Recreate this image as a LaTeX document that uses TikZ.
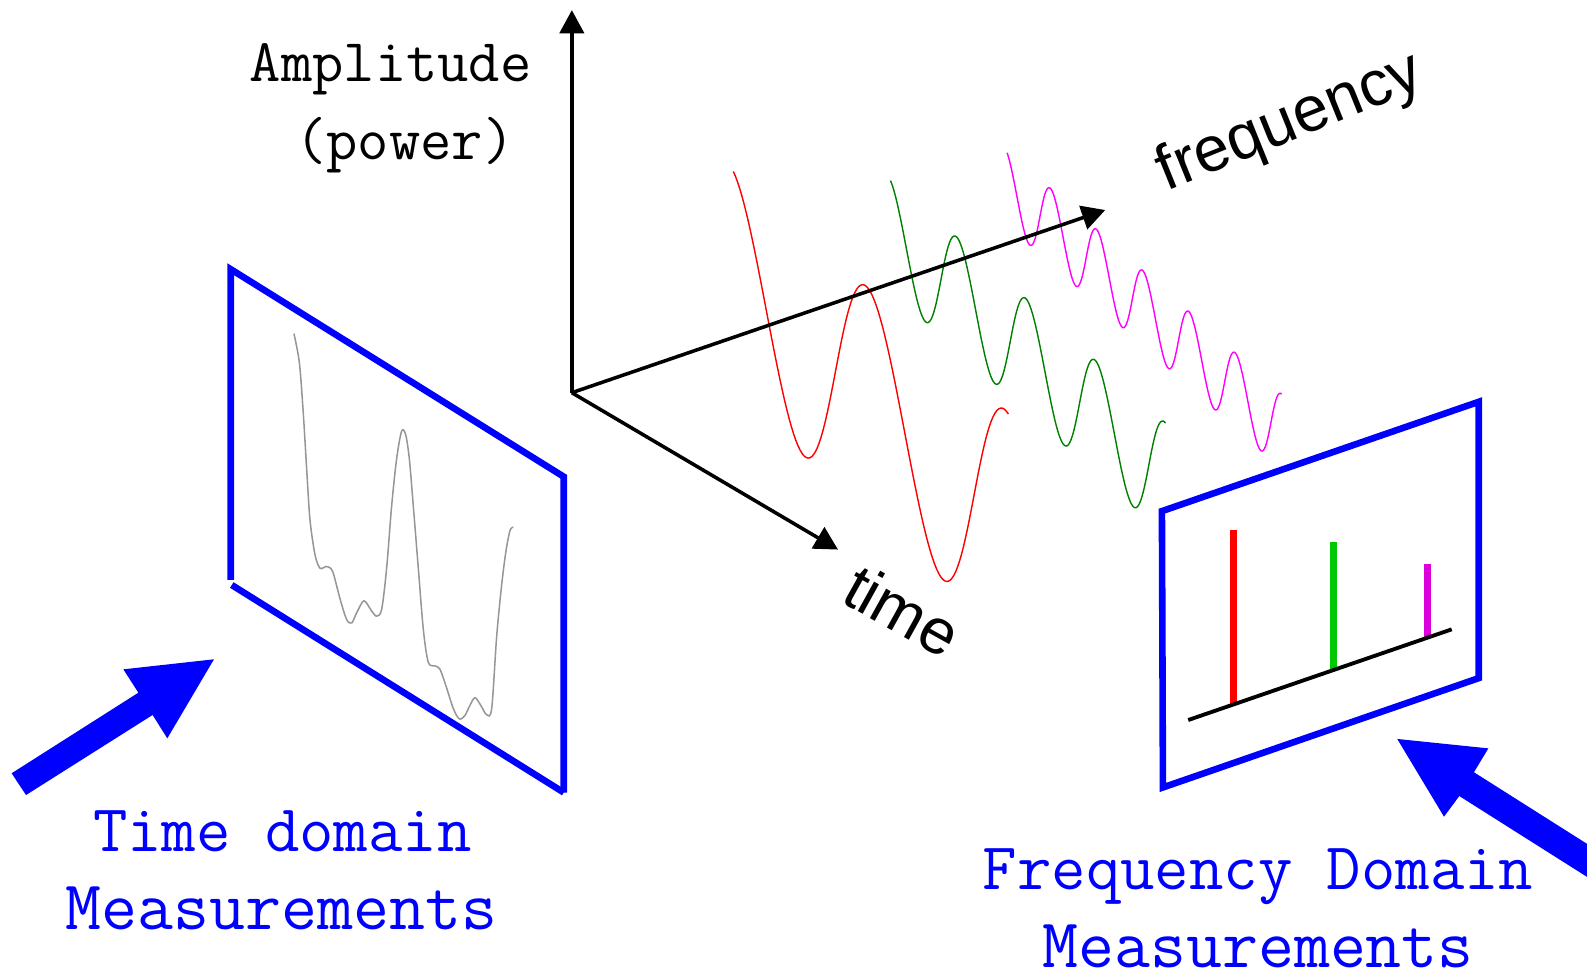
\documentclass[tikz,border=0pt]{standalone}
\usepackage{fontspec}
\usepackage{xcolor}
\usepackage{tikz}
\usetikzlibrary{arrows.meta, positioning, calc}
\newfontfamily\axisfont{Liberation Sans}
\definecolor{myblue}{RGB}{0,0,255}
\definecolor{mygray}{RGB}{150,150,150}
\definecolor{wavegreen}{RGB}{0,128,0}
\definecolor{wavemagenta}{RGB}{255,0,255}
\definecolor{bargreen}{RGB}{0,200,0}
\definecolor{barmagenta}{RGB}{220,0,220}
\tikzset{
  panel/.style={draw=myblue, line width=6.5pt},
  axis/.style={-{Triangle[length=23pt,width=24pt]}, line width=3.5pt, color=black},
  wave/.style={line width=1.4pt},
  trace/.style={line width=1.5pt, color=mygray},
  specbar/.style={line width=7pt},
  bigarrow/.style={fill=myblue},
  ttlabel/.style={font=\ttfamily\fontsize{60}{72}\selectfont, anchor=base, inner sep=0pt},
  bluelabel/.style={font=\ttfamily\fontsize{66}{78}\selectfont, anchor=base, inner sep=0pt, text=myblue},
  widelabel/.style={bluelabel, font=\ttfamily\fontsize{69}{80}\selectfont},
  axislabel/.style={font=\axisfont\fontsize{63}{75}\selectfont, inner sep=0pt}
}
\begin{document}
\begin{tikzpicture}[x=1pt, y=-1pt]
  \useasboundingbox (0,0) rectangle (1568,962);
  \clip (0,0) rectangle (1568,962);
  % Harmonics: f, 2f, 3f with amplitudes 1, 1/2, 1/3
  \draw[wave, red] plot[domain=0.25:12.72, samples=140, variable=\t]
    ({719+21.8*\t+3.75*(1-cos(\t r))}, {161+19.4*\t+114.5*(1-cos(\t r))});
  \draw[wave, wavegreen] plot[domain=0.3:25.23, samples=240, variable=\t]
    ({876.5+10.9*\t+1.875*(1-cos(\t r))}, {173+9.7*\t+57.25*(1-cos(\t r))});
  \draw[wave, wavemagenta] plot[domain=0.4:37.75, samples=340, variable=\t]
    ({992+7.267*\t+1.25*(1-cos(\t r))}, {145.3+6.467*\t+38.17*(1-cos(\t r))});
  % Axes
  \coordinate (O) at (565,388);
  \coordinate (ampTip) at (565,10);
  \coordinate (freqTip) at (1092,207.5);
  \coordinate (timeTip) at (828,543);
  \draw[axis] (O) -- (ampTip);
  \draw[axis] (O) -- (freqTip);
  \draw[axis] (O) -- (timeTip);
  \node[ttlabel] (amp) at (386,80.7) {Amplitude};
  \node[ttlabel] (pow) at (400,158) {(power)};
  \node[axislabel, rotate=22] (freq) at (1275,122) {frequency};
  \node[axislabel, rotate=-29] (time) at (892,603) {time};
  % Time domain panel
  \draw[trace] plot[smooth] coordinates {(290.4,329.6) (295.8,358.4) (299.7,409.1) (303.6,473.5)
    (306.3,514.0) (311.2,547.9) (316.2,561.4) (322.9,559.7) (328.7,564.8) (336.0,591.8)
    (342.5,612.1) (347.5,615.5) (352.4,605.4) (359.6,593.6) (367.2,603.7) (372.1,608.8)
    (377.1,602.0) (382.0,561.4) (386.9,500.5) (391.9,453.1) (396.8,426.0) (400.8,429.4)
    (404.4,453.1) (408.4,500.5) (413.3,561.4) (418.3,622.3) (423.2,654.5) (429.8,657.9)
    (434.7,661.2) (441.3,679.8) (447.9,700.1) (453.8,710.3) (459.4,706.9) (464.4,696.7)
    (469.3,689.3) (474.9,696.7) (480.8,706.2) (485.8,700.1) (490.7,629.1) (495.6,578.3)
    (499.9,544.5) (503.9,524.2) (507.2,520.8)};
  \draw[panel] (228,573) -- (228,266) -- (557,471) -- (557,783);
  \draw[panel] (229,578) -- (557,783);
  \fill[bigarrow] (11.5,764) -- (136.7,684.4) -- (121.9,661.3) -- (211.4,651.4)
    -- (165.3,729.5) -- (150.8,706.4) -- (25.7,785.5) -- cycle;
  \node[bluelabel] (tdtop) at (279,841.5) {Time domain};
  \node[widelabel] (tdbot) at (278,918.8) {Measurements};
  % Frequency domain panel
  \coordinate (specL) at (1174,711.4);
  \coordinate (specR) at (1434.3,621.8);
  \draw[specbar, red] (1218.9,523.6) -- (1218.9,695.9);
  \draw[specbar, bargreen] (1317.7,535.8) -- (1317.7,661.9);
  \draw[specbar, barmagenta] (1410.2,557.6) -- (1410.2,630.1);
  \draw[line width=3.8pt] (specL) -- (specR);
  \draw[panel] (1148,505) -- (1461,397) -- (1461,670) -- (1149,778) -- cycle;
  \fill[bigarrow] (1380.5,730.1) -- (1470.5,739.4) -- (1456.3,763) -- (1600,854)
    -- (1600,886.6) -- (1441.8,786.5) -- (1426.7,806.9) -- cycle;
  \node[bluelabel] (fdtop) at (1243,879.3) {Frequency Domain};
  \node[widelabel] (fdbot) at (1243,956) {Measurements};
\end{tikzpicture}
\end{document}
